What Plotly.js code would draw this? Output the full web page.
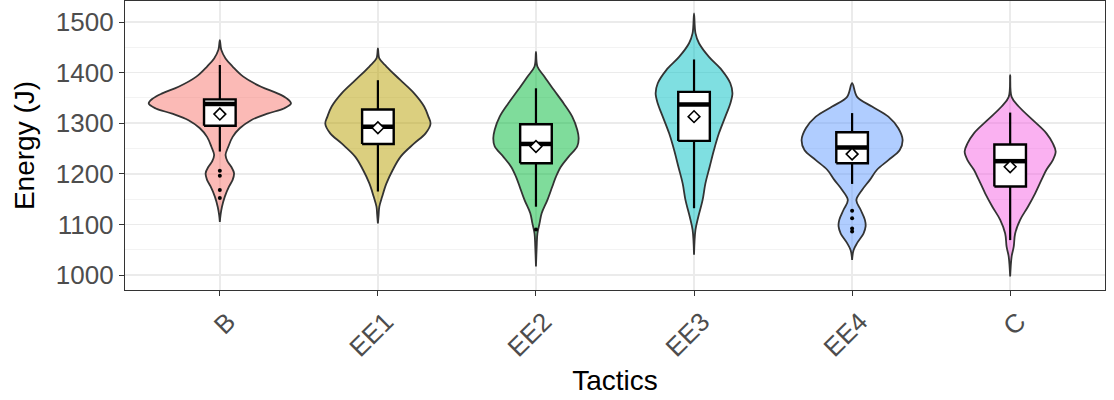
<!DOCTYPE html>
<html>
<head>
<meta charset="utf-8">
<script src="https://cdn.plot.ly/plotly-3.0.1.min.js"></script>
<style>html,body{margin:0;padding:0;background:#fff}#chart{width:1114px;height:400px}</style>
</head>
<body>
<div id="chart"></div>
<script>
// ---- data ----
const categories = ['B', 'EE1', 'EE2', 'EE3', 'EE4', 'C'];

// violin outlines: energy levels (J) and relative density (1 = widest violin)
const bY     = [1464,1445,1428,1412,1392,1372,1359,1349,1339,1329,1319,1306,1290,1273,1254,1237,1224,1214,1201,1188,1175,1155,1135,1119,1105];
const bDens  = [0,.02,.08,.18,.33,.58,.81,.94,1,.9,.67,.44,.28,.18,.12,.08,.11,.16,.2,.18,.13,.07,.03,.01,0];
const ee1Y   = [1448,1428,1412,1386,1359,1333,1313,1299,1280,1260,1234,1208,1181,1155,1135,1119,1102];
const ee1Dens= [0,.02,.12,.31,.51,.65,.71,.74,.67,.51,.32,.21,.12,.06,.02,.01,0];
const ee2Y   = [1441,1412,1392,1366,1339,1313,1287,1270,1254,1234,1214,1194,1175,1148,1122,1102,1082,1056,1017];
const ee2Dens= [0,.02,.12,.25,.39,.51,.58,.6,.58,.46,.35,.28,.23,.16,.08,.05,.02,.01,0];
const ee3Y   = [1517,1478,1458,1431,1405,1379,1359,1339,1313,1280,1247,1214,1181,1148,1115,1089,1040];
const ee3Dens= [0,.02,.07,.21,.39,.51,.54,.51,.44,.35,.28,.22,.16,.12,.06,.02,0];
const ee4Y   = [1379,1352,1333,1313,1290,1267,1247,1227,1208,1188,1168,1148,1129,1109,1096,1082,1063,1049,1030];
const ee4Dens= [0,.07,.28,.51,.65,.71,.67,.51,.35,.25,.14,.06,.12,.18,.19,.16,.07,.02,0];
const cY     = [1395,1352,1333,1306,1280,1260,1244,1227,1208,1188,1161,1135,1109,1082,1056,1036,997];
const cDens  = [0,.02,.12,.32,.51,.6,.64,.6,.51,.44,.35,.25,.14,.07,.05,.02,0];

// box plot statistics
const boxQ1       = [1295, 1259, 1221, 1265, 1221, 1175];
const boxMedian   = [1338, 1293, 1259, 1337, 1252, 1225];
const boxQ3       = [1347, 1327, 1298, 1362, 1282, 1258];
const whiskerLow  = [1244, 1165, 1135, 1132, 1180, 1069];
const whiskerHigh = [1415, 1385, 1369, 1426, 1320, 1321];
const means       = [1318, 1291, 1254, 1313, 1239, 1214];

// outliers
const outlierCat = ['B','B','B','B','EE2','EE4','EE4','EE4','EE4'];
const outlierY   = [1206,1196,1168,1152,1090,1127,1112,1092,1086];

const fills = ['#F8766D','#B79F00','#00BA38','#00BFC4','#619CFF','#F564E3'];

// ---- build traces ----
const violinY = [bY, ee1Y, ee2Y, ee3Y, ee4Y, cY];
const violinD = [bDens, ee1Dens, ee2Dens, ee3Dens, ee4Dens, cDens];
const HALF = 0.45;     // max violin half-width (x units)
const BOXHALF = 0.1;   // box half-width (x units)
const traces = [];

categories.forEach((c, i) => {
  const ys = violinY[i], ds = violinD[i];
  const xr = ds.map(d => i + d * HALF);
  const xl = ds.map(d => i - d * HALF).reverse();
  const yl = ys.slice().reverse();
  traces.push({
    type: 'scatter', mode: 'lines',
    x: xr.concat(xl), y: ys.concat(yl),
    fill: 'toself', fillcolor: fills[i], opacity: 0.5,
    line: {color: '#333333', width: 0, shape: 'spline', smoothing: 1},
    hoverinfo: 'skip', showlegend: false
  });
  traces.push({
    type: 'scatter', mode: 'lines',
    x: xr.concat(xl), y: ys.concat(yl),
    line: {color: '#333333', width: 1.8, shape: 'spline', smoothing: 1},
    hoverinfo: 'skip', showlegend: false
  });
});

categories.forEach((c, i) => {
  // whiskers
  traces.push({
    type: 'scatter', mode: 'lines',
    x: [i, i, null, i, i],
    y: [boxQ3[i], whiskerHigh[i], null, boxQ1[i], whiskerLow[i]],
    line: {color: '#000000', width: 2.2},
    hoverinfo: 'skip', showlegend: false
  });
  // box
  traces.push({
    type: 'scatter', mode: 'lines',
    x: [i - BOXHALF, i + BOXHALF, i + BOXHALF, i - BOXHALF, i - BOXHALF],
    y: [boxQ1[i], boxQ1[i], boxQ3[i], boxQ3[i], boxQ1[i]],
    fill: 'toself', fillcolor: '#ffffff',
    line: {color: '#000000', width: 2.4},
    hoverinfo: 'skip', showlegend: false
  });
  // median
  traces.push({
    type: 'scatter', mode: 'lines',
    x: [i - BOXHALF, i + BOXHALF], y: [boxMedian[i], boxMedian[i]],
    line: {color: '#000000', width: 4.5},
    hoverinfo: 'skip', showlegend: false
  });
});

traces.push({
  type: 'scatter', mode: 'markers',
  x: categories.map((c, i) => i), y: means,
  marker: {symbol: 'diamond', size: 9, color: '#ffffff', line: {color: '#000000', width: 1.6}},
  hoverinfo: 'skip', showlegend: false
});
traces.push({
  type: 'scatter', mode: 'markers',
  x: outlierCat.map(c => categories.indexOf(c)), y: outlierY,
  marker: {symbol: 'circle', size: 4, color: '#000000'},
  hoverinfo: 'skip', showlegend: false
});

const layout = {
  width: 1114, height: 400,
  margin: {l: 125, r: 9, t: 1, b: 110},
  paper_bgcolor: '#ffffff', plot_bgcolor: '#ffffff',
  showlegend: false,
  font: {family: 'Liberation Sans, Arial, sans-serif'},
  xaxis: {
    range: [-0.6, 5.6],
    tickvals: categories.map((c, i) => i), ticktext: categories,
    tickangle: -45,
    ticklabelshift: 8,
    tickfont: {size: 26, color: '#4D4D4D'},
    ticks: 'outside', ticklen: 5, tickcolor: '#333333', tickwidth: 1,
    showgrid: true, gridcolor: '#EBEBEB', gridwidth: 1.5,
    zeroline: false,
    showline: true, mirror: true, linecolor: '#333333', linewidth: 1.2,
    title: {text: 'Tactics', font: {size: 28, color: '#000000'}, standoff: 8}
  },
  yaxis: {
    range: [970.4, 1541.5],
    tickvals: [1000, 1100, 1200, 1300, 1400, 1500],
    tickfont: {size: 26, color: '#4D4D4D'},
    ticks: 'outside', ticklen: 5, tickcolor: '#333333', tickwidth: 1,
    showgrid: true, gridcolor: '#EBEBEB', gridwidth: 1.5,
    minor: {tickvals: [1050, 1150, 1250, 1350, 1450], showgrid: true, gridcolor: '#F3F3F3', gridwidth: 1, ticks: ''},
    zeroline: false,
    showline: true, mirror: true, linecolor: '#333333', linewidth: 1.2,
    title: {text: 'Energy (J)', font: {size: 28, color: '#000000'}, standoff: 13}
  }
};

Plotly.newPlot('chart', traces, layout, {staticPlot: true, displayModeBar: false});
</script>
</body>
</html>
